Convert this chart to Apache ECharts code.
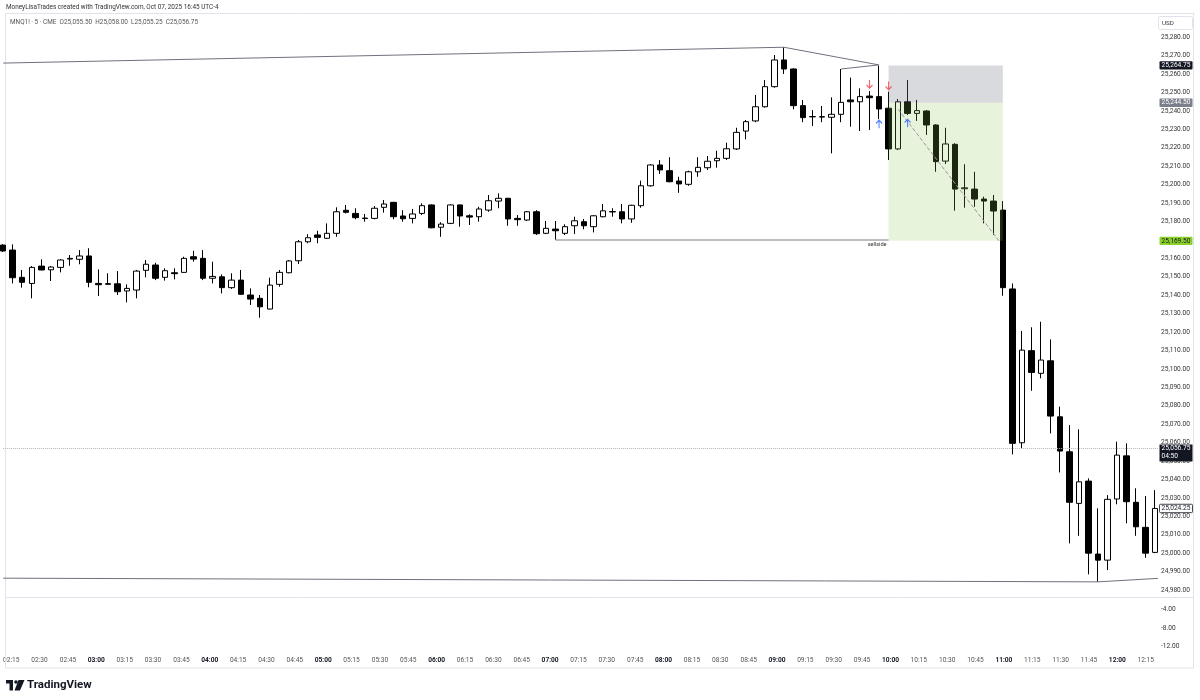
<!DOCTYPE html>
<html>
<head>
<meta charset="utf-8">
<script src="https://cdn.jsdelivr.net/npm/echarts@6/dist/echarts.min.js"></script>
<style>
  html, body { margin: 0; padding: 0; background: #fff; }
  #chart { width: 1200px; height: 700px; }
</style>
</head>
<body>
<div id="chart"></div>
<script>
// MNQ1! 5 min bars, first bar 02:15
const firstBar = '02:15';
const barMinutes = 5;

const opens = [
  25167.2, 25164.5, 25149.7, 25146.4, 25155.8, 25153.8, 25155.1, 25159.6, 25159.5, 25161.3,
  25146.4, 25145.9, 25146.2, 25142.3, 25142.8, 25153.5, 25156.4, 25149.7, 25152.2, 25152.4,
  25160.9, 25160.0, 25149.2, 25150.0, 25144.1, 25148.2, 25140.1, 25138.3, 25132.5, 25145.9,
  25152.2, 25158.7, 25169.0, 25172.7, 25170.9, 25173.6, 25186.1, 25184.4, 25181.6, 25181.7,
  25187.7, 25190.4, 25183.0, 25181.7, 25184.4, 25189.0, 25176.9, 25179.0, 25189.0, 25183.1,
  25182.6, 25186.2, 25191.1, 25192.6, 25181.7, 25180.8, 25185.3, 25173.6, 25175.9, 25173.6,
  25177.7, 25179.9, 25177.2, 25182.6, 25185.2, 25185.3, 25181.4, 25188.6, 25199.4, 25210.7,
  25207.6, 25202.0, 25200.2, 25207.0, 25209.2, 25213.0, 25214.3, 25219.4, 25229.1, 25234.6,
  25242.3, 25253.2, 25267.7, 25262.8, 25242.9, 25236.8, 25236.9, 25236.6, 25238.2, 25246.0,
  25245.0, 25248.1, 25247.8, 25241.5, 25219.4, 25245.0, 25238.7, 25240.0, 25232.4, 25212.8,
  25221.9, 25197.8, 25197.6, 25192.2, 25191.1, 25186.2, 25143.4, 25059.9, 25109.9, 25097.6,
  25104.4, 25074.0, 25055.0, 25027.0, 25039.1, 24999.5, 24996.2, 25029.4, 25052.8, 25027.6,
  25014.0, 25000.4
];
const closes = [
  25164.0, 25149.5, 25147.0, 25155.1, 25153.7, 25155.3, 25159.1, 25160.0, 25161.3, 25147.0,
  25145.7, 25146.3, 25141.9, 25143.7, 25153.1, 25156.8, 25149.2, 25153.3, 25151.7, 25160.0,
  25159.6, 25149.2, 25150.2, 25144.1, 25148.2, 25140.5, 25137.9, 25133.7, 25145.5, 25152.4,
  25158.6, 25169.0, 25171.2, 25171.4, 25173.6, 25185.3, 25185.0, 25182.1, 25181.9, 25187.2,
  25189.5, 25182.6, 25181.5, 25184.1, 25188.6, 25176.6, 25178.6, 25189.0, 25183.0, 25182.4,
  25186.8, 25191.3, 25192.6, 25181.4, 25181.0, 25185.3, 25173.4, 25176.3, 25175.0, 25177.2,
  25180.4, 25177.7, 25183.1, 25185.8, 25185.4, 25181.4, 25188.8, 25199.4, 25210.7, 25208.0,
  25201.6, 25200.4, 25207.0, 25209.4, 25212.7, 25214.3, 25219.5, 25228.4, 25234.2, 25242.3,
  25253.2, 25267.7, 25262.8, 25242.9, 25236.4, 25237.0, 25236.7, 25238.2, 25244.7, 25245.0,
  25247.8, 25247.2, 25241.1, 25219.4, 25245.0, 25238.7, 25240.2, 25232.4, 25212.5, 25222.1,
  25197.6, 25198.3, 25192.2, 25191.1, 25185.7, 25144.1, 25059.6, 25110.2, 25098.1, 25104.8,
  25074.4, 25055.4, 25027.6, 25038.7, 25000.0, 24996.2, 25029.2, 25053.2, 25027.9, 25014.3,
  25000.0, 25024.25
];
const lows = [
  25163.5, 25146.4, 25144.1, 25138.3, 25153.5, 25147.7, 25152.4, 25156.0, 25156.8, 25144.3,
  25139.6, 25145.6, 25140.1, 25136.1, 25138.3, 25149.7, 25148.2, 25147.9, 25148.6, 25152.2,
  25158.2, 25148.2, 25146.4, 25141.0, 25143.4, 25140.1, 25134.7, 25127.8, 25132.3, 25144.6,
  25151.9, 25156.9, 25168.2, 25168.2, 25170.5, 25171.7, 25184.4, 25181.2, 25179.9, 25181.2,
  25184.8, 25181.2, 25179.9, 25179.0, 25183.5, 25176.3, 25171.7, 25178.6, 25177.2, 25178.1,
  25179.9, 25185.3, 25187.2, 25177.7, 25177.7, 25180.3, 25172.7, 25173.2, 25170.0, 25172.7,
  25173.2, 25175.8, 25174.1, 25182.3, 25182.6, 25179.0, 25179.3, 25187.5, 25198.9, 25205.8,
  25201.3, 25195.6, 25199.4, 25204.3, 25208.0, 25209.2, 25213.4, 25218.8, 25224.6, 25233.9,
  25241.8, 25252.6, 25260.1, 25240.9, 25233.9, 25231.8, 25233.9, 25217.0, 25233.9, 25231.5,
  25229.1, 25229.7, 25235.6, 25213.4, 25218.8, 25237.8, 25234.6, 25227.0, 25207.0, 25211.2,
  25185.9, 25187.5, 25188.0, 25179.0, 25172.7, 25139.7, 25053.6, 25056.9, 25088.1, 25094.9,
  25065.0, 25043.8, 25005.3, 25009.4, 24988.5, 24984.4, 24990.8, 25026.5, 25016.2, 25009.4,
  24997.5, 25000.0
];
const highs = [
  25167.7, 25167.6, 25153.7, 25155.8, 25159.5, 25155.8, 25159.5, 25161.8, 25164.5, 25165.5,
  25154.0, 25151.9, 25153.1, 25145.9, 25153.7, 25159.1, 25157.6, 25154.6, 25154.6, 25160.9,
  25164.1, 25164.5, 25158.2, 25151.3, 25151.9, 25153.7, 25143.7, 25140.1, 25149.5, 25153.7,
  25159.1, 25170.0, 25173.1, 25175.0, 25179.0, 25187.7, 25189.0, 25187.2, 25184.1, 25188.4,
  25191.7, 25190.7, 25186.2, 25186.8, 25189.9, 25189.3, 25179.6, 25189.3, 25189.3, 25183.9,
  25188.0, 25194.4, 25195.3, 25192.9, 25183.5, 25185.7, 25186.2, 25180.3, 25180.3, 25178.5,
  25182.6, 25181.4, 25183.5, 25189.5, 25187.2, 25189.5, 25189.1, 25202.2, 25211.1, 25213.4,
  25214.9, 25204.3, 25207.6, 25214.9, 25215.6, 25218.4, 25222.8, 25230.9, 25235.1, 25248.7,
  25256.8, 25270.4, 25274.6, 25263.2, 25246.0, 25240.5, 25242.7, 25247.4, 25262.8, 25258.1,
  25252.3, 25250.8, 25264.5, 25250.5, 25246.5, 25256.8, 25246.0, 25240.5, 25232.8, 25230.9,
  25222.5, 25211.1, 25207.0, 25193.5, 25194.4, 25191.1, 25146.4, 25120.6, 25122.6, 25125.6,
  25116.0, 25079.5, 25069.5, 25067.2, 25040.6, 25024.3, 25031.5, 25060.5, 25059.6, 25035.2,
  25031.0, 25034.2
];

// drawings, in [bar index, price]
const topTrend = [[0, 25266.0], [82, 25274.6], [92, 25265.0]];
const innerTrend = [[88, 25262.8], [92, 25265.0]];
const sellside = [[58, 25170.0], [93, 25170.0]];
const bottomTrend = [[0, 24986.4], [115, 24984.4], [121.3, 24986.3]];
const tradePath = [[94, 25241.0], [104.6, 25169.5]];
const sellArrows = [[91, 25254.6], [93, 25253.8]];
const buyArrows = [[92, 25232.8], [95, 25233.3]];

// short position tool
const stopPrice = 25264.75;
const entryPrice = 25244.5;
const targetPrice = 25169.5;
const positionZones = [
  [93, 105, stopPrice, entryPrice],
  [93, 105, entryPrice, targetPrice]
];
const lastPrice = 25056.75;
const lastBarClose = 25024.25;

const X_MAX = 121.3;
const FONT = 'Roboto, "Liberation Sans", Arial, sans-serif';
const zoneFill = ['rgba(120,123,134,0.28)', 'rgba(139,195,74,0.2)'];

const candles = opens.map((o, i) => [i, o, closes[i], lows[i], highs[i]]);

const fmtPrice = v => v.toLocaleString('en-US', { minimumFractionDigits: 2, maximumFractionDigits: 2 });
const [h0, m0] = firstBar.split(':').map(Number);
function barTime(v) {
  const t = h0 * 60 + m0 + Math.round(v) * barMinutes;
  return String(Math.floor(t / 60)).padStart(2, '0') + ':' + String(t % 60).padStart(2, '0');
}

const chart = echarts.init(document.getElementById('chart'));

const drawLine = (data, color, width, type) => ({
  type: 'line',
  xAxisIndex: 0,
  yAxisIndex: 0,
  data: data,
  symbol: 'none',
  silent: true,
  z: 4,
  lineStyle: { color: color, width: width, type: type || 'solid' }
});

chart.setOption({
  animation: false,
  grid: [
    { left: 3.2, right: 42, top: 0.45, bottom: 91.6 },
    { left: 3.2, right: 42, top: 590.6, bottom: 53.3 }
  ],
  xAxis: [
    { type: 'value', gridIndex: 0, min: 0, max: X_MAX, show: false },
    {
      type: 'value', gridIndex: 1, min: 0, max: X_MAX, interval: 3,
      axisLine: { show: false }, axisTick: { show: false }, splitLine: { show: false },
      axisLabel: {
        margin: 10, fontSize: 6.6, color: '#555', fontFamily: FONT, showMaxLabel: false,
        formatter: v => {
          const s = barTime(v);
          return s.endsWith(':00') ? '{h|' + s + '}' : s;
        },
        rich: { h: { fontWeight: 'bold', color: '#131722', fontSize: 6.6, fontFamily: FONT } }
      }
    }
  ],
  yAxis: [
    {
      type: 'value', gridIndex: 0, position: 'right', min: 24970, max: 25300, interval: 10,
      axisLine: { show: false }, axisTick: { show: false }, splitLine: { show: false },
      axisLabel: {
        margin: 3, fontSize: 6.6, color: '#333', fontFamily: FONT,
        formatter: v => (v < 24980 || v > 25280) ? '' : fmtPrice(v)
      }
    },
    {
      type: 'value', gridIndex: 1, position: 'right', min: -12, max: 0, interval: 4,
      axisLine: { show: false }, axisTick: { show: false }, splitLine: { show: false },
      axisLabel: {
        margin: 3, fontSize: 6.6, color: '#333', fontFamily: FONT,
        formatter: v => v === 0 ? '' : v.toFixed(2)
      }
    }
  ],
  series: [
    {
      type: 'candlestick',
      xAxisIndex: 0,
      yAxisIndex: 0,
      data: candles,
      barWidth: 6,
      itemStyle: {
        color: '#ffffff', color0: '#000000',
        borderColor: '#000000', borderColor0: '#000000', borderWidth: 1
      },
      markLine: {
        silent: true, symbol: 'none', label: { show: false },
        lineStyle: { color: '#b2b5be', type: 'dotted', width: 1 },
        data: [{ yAxis: lastPrice }]
      }
    },
    {
      type: 'custom',
      xAxisIndex: 0,
      yAxisIndex: 0,
      z: 3,
      silent: true,
      data: positionZones,
      encode: { x: [0, 1], y: [2, 3] },
      renderItem: (params, api) => {
        const p0 = api.coord([api.value(0), api.value(2)]);
        const p1 = api.coord([api.value(1), api.value(3)]);
        return {
          type: 'rect',
          shape: { x: p0[0], y: p0[1], width: p1[0] - p0[0], height: p1[1] - p0[1] },
          style: { fill: zoneFill[params.dataIndex] }
        };
      }
    },
    drawLine(topTrend, '#6f727c', 1),
    drawLine(innerTrend, '#6f727c', 1),
    drawLine(sellside, '#a5a7ad', 1.6),
    drawLine(bottomTrend, '#6f727c', 1),
    drawLine(tradePath, '#9598a1', 1, 'dashed'),
    {
      type: 'scatter', xAxisIndex: 0, yAxisIndex: 0, z: 5, silent: true,
      data: sellArrows,
      symbol: 'path://M4,0 L4,9 M0.5,5.5 L4,9 L7.5,5.5',
      symbolSize: [6, 8],
      itemStyle: { color: 'rgba(0,0,0,0)', borderColor: '#f23645', borderWidth: 1.2 }
    },
    {
      type: 'scatter', xAxisIndex: 0, yAxisIndex: 0, z: 5, silent: true,
      data: buyArrows,
      symbol: 'path://M4,9 L4,0 M0.5,3.5 L4,0 L7.5,3.5',
      symbolSize: [6, 8],
      itemStyle: { color: 'rgba(0,0,0,0)', borderColor: '#2962ff', borderWidth: 1.2 }
    }
  ]
});

// overlay: header, frame, price scale tags, logo
const yPx = p => chart.convertToPixel({ yAxisIndex: 0 }, p);
const xPx = v => chart.convertToPixel({ xAxisIndex: 0 }, v);

const txt = (text, x, y, size, color, extra) => ({
  type: 'text', z: 20, silent: true,
  style: Object.assign({ text: text, x: x, y: y, fill: color, fontSize: size, fontFamily: FONT, align: 'left', verticalAlign: 'middle' }, extra || {})
});
const hline = (x1, x2, y, color) => ({
  type: 'line', z: 19, silent: true,
  shape: { x1: x1, y1: y, x2: x2, y2: y }, style: { stroke: color, lineWidth: 1 }
});
// tags go on their own layer so they sit above the axis labels
const onTop = el => Object.assign(el, { zlevel: 2, z: 50 });

const priceTags = [
  { price: stopPrice, bg: '#131722', fg: '#ffffff' },
  { price: entryPrice, bg: '#7b7f8c', fg: '#ffffff' },
  { price: targetPrice, bg: '#8bd12a', fg: '#131722' },
  { price: lastBarClose, bg: '#ffffff', fg: '#131722', border: '#131722' }
];

const g = [
  { type: 'rect', z: 1, silent: true, shape: { x: 5.5, y: 13.5, width: 1188, height: 654.5 },
    style: { fill: 'none', stroke: '#e0e3eb', lineWidth: 1 } },
  hline(5.5, 1193.5, 597.5, '#e0e3eb'),
  txt('MoneyLisaTrades created with TradingView.com, Oct 07, 2025 16:45 UTC-4', 6, 7, 6.4, '#333'),
  txt('MNQ1! \u00b7 5 \u00b7 CME  O25,055.50  H25,058.00  L25,055.25  C25,056.75', 10, 22.5, 6.4, '#555'),
  onTop({ type: 'rect', silent: true, shape: { x: 1158.5, y: 16.5, width: 34, height: 13, r: 2 },
    style: { fill: '#fff', stroke: '#e0e3eb', lineWidth: 1 } }),
  onTop(txt('USD', 1162, 23, 6.2, '#333')),
  txt('sellside', xPx(sellside[1][0]) - 2, yPx(sellside[1][1]) + 5, 5.6, '#333', { align: 'right' })
];

priceTags.forEach(t => {
  const y = yPx(t.price);
  g.push(onTop({ type: 'rect', silent: true, shape: { x: 1159.5, y: y - 4.2, width: 33, height: 8.4, r: 1 },
    style: { fill: t.bg, stroke: t.border || null, lineWidth: t.border ? 0.8 : 0 } }));
  const label = onTop(txt(fmtPrice(t.price), 1161.5, y, 6.6, t.fg));
  label.z = 51;
  g.push(label);
});

// last price tag with bar countdown
const yl = yPx(lastPrice);
g.push(onTop({ type: 'rect', silent: true, shape: { x: 1159.5, y: yl - 4.2, width: 33, height: 17 },
  style: { fill: '#131722' } }));
const lastLabel = onTop(txt(fmtPrice(lastPrice), 1161.5, yl, 6.6, '#fff'));
const countdown = onTop(txt('04:50', 1161.5, yl + 8, 6.6, '#fff'));
lastLabel.z = 51;
countdown.z = 51;
g.push(lastLabel, countdown);

// TradingView logo
g.push({ type: 'rect', z: 20, silent: true, shape: { x: 6, y: 680, width: 7, height: 3.5 }, style: { fill: '#131722' } });
g.push({ type: 'rect', z: 20, silent: true, shape: { x: 9.5, y: 680, width: 3.5, height: 10.5 }, style: { fill: '#131722' } });
g.push({ type: 'circle', z: 20, silent: true, shape: { cx: 16, cy: 682, r: 1.8 }, style: { fill: '#131722' } });
g.push({ type: 'polygon', z: 20, silent: true, shape: { points: [[18.5, 680], [24.5, 680], [20, 690.5], [14.5, 690.5]] }, style: { fill: '#131722' } });
g.push(txt('TradingView', 27, 685, 11.5, '#131722', { fontWeight: 'bold' }));

chart.setOption({ graphic: g });
</script>
</body>
</html>
